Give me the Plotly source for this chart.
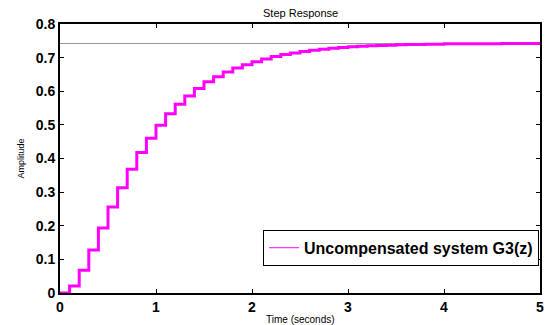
import plotly.graph_objects as go

time_s = [round(0.1 * i, 1) for i in range(51)]
amplitude = [
    0.000, 0.021, 0.068, 0.128, 0.193, 0.256, 0.313, 0.368, 0.418, 0.460,
    0.499, 0.533, 0.561, 0.586, 0.608, 0.628, 0.643, 0.657, 0.669, 0.679,
    0.688, 0.696, 0.703, 0.709, 0.714, 0.718, 0.722, 0.725, 0.728, 0.730,
    0.732, 0.734, 0.735, 0.736, 0.737, 0.738, 0.739, 0.739, 0.740, 0.740,
    0.741, 0.741, 0.741, 0.741, 0.741, 0.741, 0.742, 0.742, 0.742, 0.742,
    0.742,
]
final_value = 0.742
x_ticks = [0, 1, 2, 3, 4, 5]
x_tick_labels = ["0", "1", "2", "3", "4", "5"]
y_ticks = [0, 0.1, 0.2, 0.3, 0.4, 0.5, 0.6, 0.7, 0.8]
y_tick_labels = ["0", "0.1", "0.2", "0.3", "0.4", "0.5", "0.6", "0.7", "0.8"]
legend_label = "Uncompensated system G3(z)"
title_text = "Step Response"
x_title = "Time (seconds)"
y_title = "Amplitude"

FONT = "Liberation Sans, Arial"

fig = go.Figure()
fig.add_trace(go.Scatter(x=[time_s[0], time_s[-1]], y=[final_value, final_value],
                         mode="lines", line=dict(color="#9a9a9a", width=1),
                         showlegend=False, hoverinfo="skip"))
fig.add_trace(go.Scatter(x=time_s, y=amplitude, mode="lines", line_shape="hv",
                         line=dict(color="#ff00ff", width=3), showlegend=False))
fig.add_trace(go.Scatter(x=[None], y=[None], mode="lines", name=legend_label,
                         line=dict(color="#ff00ff", width=1)))

axis_common = dict(showline=True, linecolor="black", linewidth=2, mirror="ticks",
                   ticks="inside", ticklen=4, tickcolor="black", showgrid=False,
                   zeroline=False, automargin=False, tickmode="array",
                   ticklabeloverflow="allow",
                   tickfont=dict(family=FONT, size=14, color="black", weight="bold"))

# page body has an 8px default margin, so the figure is sized to fit the window
fig.update_layout(
    width=536, height=317,
    margin=dict(l=52, r=4, t=16, b=32),
    paper_bgcolor="white", plot_bgcolor="white",
    xaxis=dict(range=[0, 5], tickvals=x_ticks, ticktext=x_tick_labels, **axis_common),
    yaxis=dict(range=[0, 0.8], tickvals=y_ticks, ticktext=y_tick_labels, **axis_common),
    legend=dict(x=0.998, xanchor="right", y=0.168, yanchor="middle",
                bgcolor="white", bordercolor="black", borderwidth=1,
                font=dict(family=FONT, size=16, color="black", weight="bold"),
                itemwidth=30, tracegroupgap=0),
    annotations=[
        dict(text=title_text, xref="paper", yref="paper", x=0.5, y=1,
             xanchor="center", yanchor="bottom", yshift=3, showarrow=False,
             font=dict(family=FONT, size=11, color="black")),
        dict(text=x_title, xref="paper", yref="paper", x=0.5, y=0,
             xanchor="center", yanchor="top", yshift=-19, showarrow=False,
             font=dict(family=FONT, size=10, color="black")),
        dict(text=y_title, xref="paper", yref="paper", x=0, y=0.5,
             xanchor="right", yanchor="middle", xshift=-33, textangle=-90,
             showarrow=False, font=dict(family=FONT, size=9, color="black")),
    ],
)

fig.write_html("out.html")
